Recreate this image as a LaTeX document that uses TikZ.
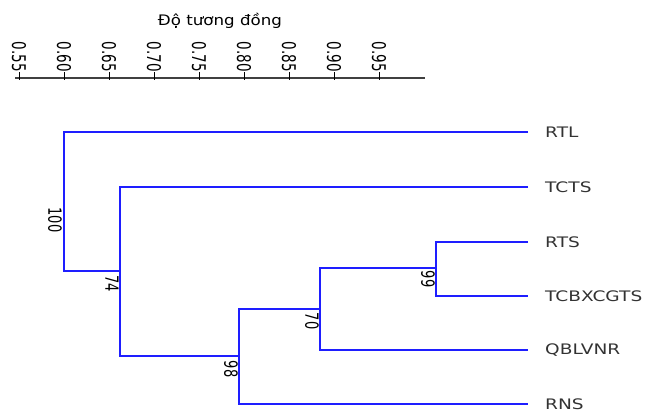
\documentclass[tikz,border=0pt]{standalone}
\usepackage{fontspec}
\setmainfont{DejaVu Sans}
\usepackage{graphicx}
\definecolor{treeblue}{RGB}{30,30,255}
\tikzset{
  branch/.style={treeblue, line width=1.5pt},
  leaflabel/.style={anchor=west, inner sep=0pt, font=\fontsize{14.5}{16}\selectfont, text=black!80},
  bootlabel/.style={rotate=-90, inner sep=0pt, font=\fontsize{13}{15}\selectfont},
  ticklabel/.style={rotate=-90, anchor=east, inner sep=0pt, font=\fontsize{13.5}{15}\selectfont}
}
\newcommand{\wide}[1]{\scalebox{1.28}[1]{#1}}
\newcommand{\tall}[1]{\scalebox{1}[1.4]{#1}}
\begin{document}
\begin{tikzpicture}[x=1pt, y=-1pt]
\useasboundingbox (0,0) rectangle (648,415);
% axis
\node (title) at (220,21) {\fontsize{14.5}{16}\selectfont\scalebox{1.15}[1]{Độ tương đồng}};
\draw[line width=1.4pt, black!75] (15,78) -- (425,78);
\foreach \v [count=\i from 0] in {0.55,0.60,0.65,0.70,0.75,0.80,0.85,0.90,0.95} {
  \draw[line width=1pt] (19+45*\i,72) -- (19+45*\i,80);
  \node[ticklabel] at (19+45*\i,72) {\tall{\v}};
}
% leaves
\coordinate (rtl) at (528,132);
\coordinate (tcts) at (528,187);
\coordinate (rts) at (528,242);
\coordinate (tcb) at (528,296);
\coordinate (qbl) at (528,350);
\coordinate (rns) at (528,404);
\node[leaflabel] (lrtl) at (545,132) {\wide{RTL}};
\node[leaflabel] (ltcts) at (545,187) {\wide{TCTS}};
\node[leaflabel] (lrts) at (545,242) {\wide{RTS}};
\node[leaflabel] (ltcb) at (545,296) {\wide{TCBXCGTS}};
\node[leaflabel] (lqbl) at (545,350) {\wide{QBLVNR}};
\node[leaflabel] (lrns) at (545,404) {\wide{RNS}};
% inner nodes
\coordinate (n99) at (436,268);
\coordinate (n70) at (320,309);
\coordinate (n98) at (239,356);
\coordinate (n74) at (120,271);
\coordinate (n100) at (64,200);
\draw[branch] (rts) -| (n99) |- (tcb);
\draw[branch] (n99) -| (n70) |- (qbl);
\draw[branch] (n70) -| (n98) |- (rns);
\draw[branch] (tcts) -| (n74) |- (n98);
\draw[branch] (rtl) -| (n100) |- (n74);
% bootstrap values
\node[bootlabel] (b100) at (55,220) {\tall{100}};
\node[bootlabel] (b74) at (112,284) {\tall{74}};
\node[bootlabel] (b98) at (231,369) {\tall{98}};
\node[bootlabel] (b70) at (312,321) {\tall{70}};
\node[bootlabel] (b99) at (428,279) {\tall{99}};
\end{tikzpicture}
\end{document}
